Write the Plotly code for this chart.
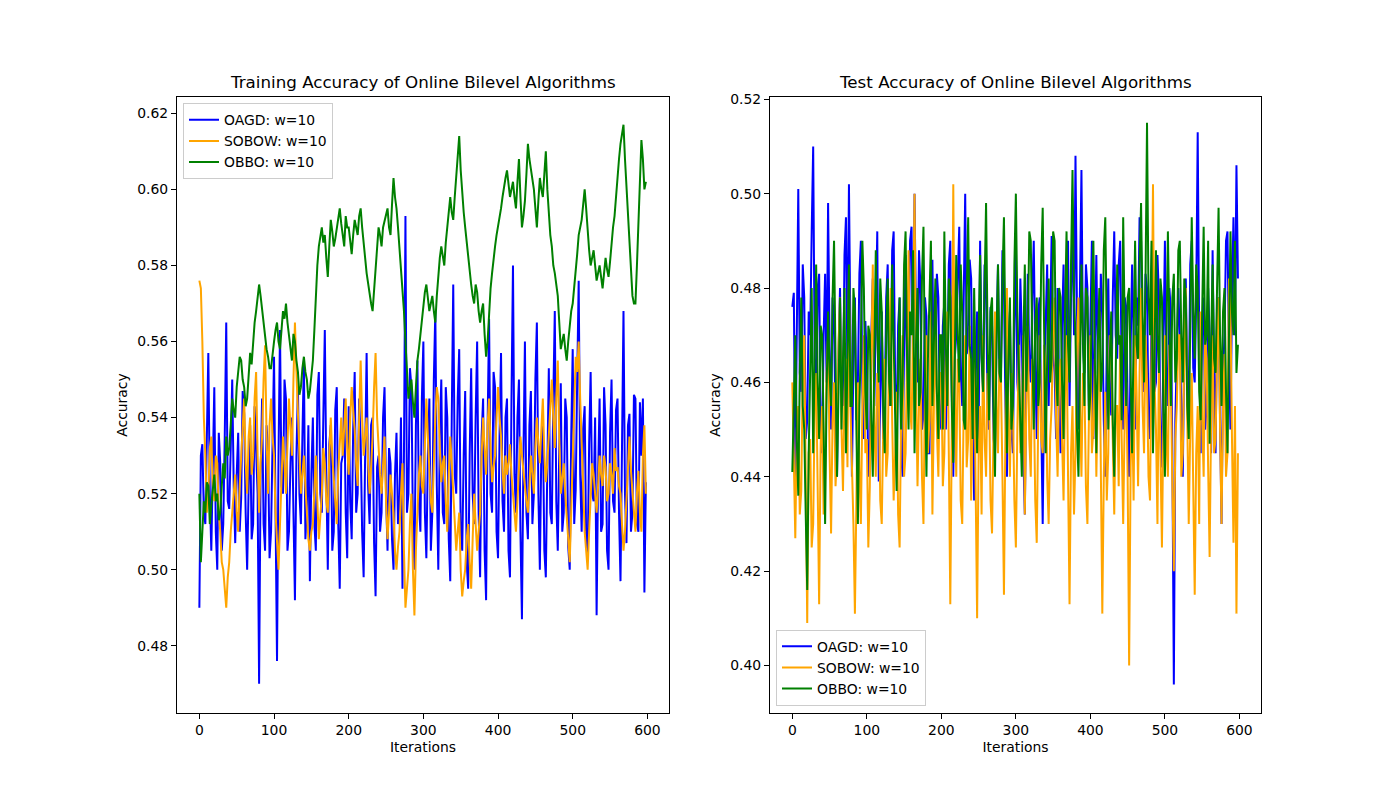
import plotly.graph_objects as go

# iterations sampled every 2 steps
iterations = list(range(0, 600, 2))

train_oagd = [
    0.490, 0.530, 0.533, 0.515, 0.512, 0.540, 0.557, 0.520, 0.505, 0.527, 0.548, 0.510, 0.500, 0.536, 0.528, 0.505, 0.512, 0.535, 0.565, 0.518,
    0.516, 0.532, 0.550, 0.522, 0.507, 0.525, 0.536, 0.510, 0.519, 0.547, 0.541, 0.515, 0.500, 0.522, 0.538, 0.508, 0.512, 0.543, 0.530, 0.520,
    0.470, 0.525, 0.545, 0.512, 0.505, 0.538, 0.531, 0.503, 0.510, 0.533, 0.556, 0.515, 0.476, 0.530, 0.563, 0.522, 0.520, 0.550, 0.545, 0.505,
    0.510, 0.528, 0.540, 0.515, 0.492, 0.530, 0.548, 0.520, 0.512, 0.535, 0.555, 0.508, 0.517, 0.538, 0.497, 0.525, 0.540, 0.512, 0.505, 0.546,
    0.552, 0.520, 0.515, 0.540, 0.563, 0.525, 0.500, 0.533, 0.538, 0.505, 0.510, 0.542, 0.548, 0.512, 0.495, 0.528, 0.530, 0.545, 0.515, 0.503,
    0.543, 0.518, 0.508, 0.537, 0.552, 0.515, 0.520, 0.545, 0.534, 0.510, 0.498, 0.530, 0.557, 0.522, 0.512, 0.538, 0.540, 0.507, 0.493, 0.527,
    0.530, 0.510, 0.515, 0.540, 0.548, 0.520, 0.505, 0.532, 0.528, 0.508, 0.500, 0.525, 0.536, 0.512, 0.518, 0.540, 0.495, 0.530, 0.593, 0.515,
    0.520, 0.553, 0.548, 0.512, 0.500, 0.538, 0.555, 0.518, 0.510, 0.545, 0.560, 0.515, 0.503, 0.530, 0.545, 0.505, 0.515, 0.550, 0.568, 0.522,
    0.500, 0.535, 0.550, 0.515, 0.512, 0.548, 0.540, 0.508, 0.497, 0.540, 0.575, 0.525, 0.520, 0.545, 0.558, 0.510, 0.505, 0.530, 0.547, 0.502,
    0.495, 0.530, 0.553, 0.520, 0.512, 0.540, 0.560, 0.515, 0.498, 0.535, 0.545, 0.505, 0.492, 0.538, 0.566, 0.520, 0.515, 0.552, 0.548, 0.510,
    0.503, 0.535, 0.557, 0.518, 0.510, 0.540, 0.545, 0.505, 0.498, 0.545, 0.580, 0.525, 0.515, 0.540, 0.550, 0.510, 0.487, 0.530, 0.560, 0.515,
    0.508, 0.538, 0.547, 0.512, 0.520, 0.550, 0.565, 0.520, 0.500, 0.532, 0.538, 0.505, 0.498, 0.527, 0.553, 0.515, 0.512, 0.545, 0.568, 0.518,
    0.505, 0.532, 0.549, 0.510, 0.515, 0.545, 0.540, 0.506, 0.500, 0.535, 0.558, 0.512, 0.521, 0.550, 0.576, 0.525, 0.510, 0.537, 0.543, 0.508,
    0.503, 0.533, 0.552, 0.520, 0.518, 0.540, 0.488, 0.525, 0.545, 0.510, 0.512, 0.548, 0.538, 0.505, 0.500, 0.536, 0.550, 0.518, 0.515, 0.542,
    0.545, 0.515, 0.497, 0.532, 0.568, 0.520, 0.507, 0.538, 0.541, 0.510, 0.515, 0.546, 0.545, 0.512, 0.510, 0.544, 0.530, 0.545, 0.494, 0.523,
]
train_sobow = [
    0.576, 0.574, 0.560, 0.540, 0.530, 0.515, 0.520, 0.532, 0.535, 0.522, 0.518, 0.530, 0.528, 0.515, 0.510, 0.502, 0.500, 0.495, 0.490, 0.498,
    0.502, 0.510, 0.515, 0.522, 0.525, 0.515, 0.510, 0.522, 0.530, 0.540, 0.545, 0.528, 0.520, 0.535, 0.540, 0.525, 0.530, 0.545, 0.552, 0.530,
    0.515, 0.528, 0.535, 0.550, 0.559, 0.535, 0.520, 0.538, 0.545, 0.535, 0.530, 0.515, 0.505, 0.500, 0.512, 0.525, 0.535, 0.528, 0.520, 0.533,
    0.545, 0.537, 0.530, 0.550, 0.565, 0.552, 0.540, 0.528, 0.520, 0.525, 0.530, 0.522, 0.515, 0.508, 0.505, 0.510, 0.512, 0.522, 0.530, 0.518,
    0.508, 0.514, 0.520, 0.532, 0.528, 0.518, 0.515, 0.530, 0.540, 0.530, 0.523, 0.516, 0.512, 0.526, 0.535, 0.540, 0.530, 0.538, 0.545, 0.532,
    0.525, 0.540, 0.548, 0.542, 0.537, 0.528, 0.522, 0.540, 0.555, 0.540, 0.530, 0.535, 0.540, 0.528, 0.520, 0.527, 0.535, 0.548, 0.557, 0.540,
    0.530, 0.525, 0.520, 0.530, 0.535, 0.518, 0.508, 0.515, 0.525, 0.520, 0.515, 0.505, 0.500, 0.506, 0.510, 0.520, 0.528, 0.505, 0.490, 0.495,
    0.500, 0.512, 0.520, 0.500, 0.488, 0.505, 0.515, 0.525, 0.530, 0.522, 0.520, 0.535, 0.545, 0.535, 0.527, 0.518, 0.515, 0.530, 0.540, 0.548,
    0.545, 0.532, 0.523, 0.528, 0.530, 0.518, 0.510, 0.525, 0.535, 0.528, 0.520, 0.512, 0.505, 0.510, 0.515, 0.500, 0.493, 0.497, 0.500, 0.508,
    0.512, 0.502, 0.495, 0.508, 0.520, 0.512, 0.505, 0.510, 0.515, 0.530, 0.540, 0.532, 0.525, 0.538, 0.545, 0.532, 0.523, 0.527, 0.530, 0.540,
    0.548, 0.540, 0.535, 0.526, 0.520, 0.530, 0.525, 0.528, 0.533, 0.525, 0.520, 0.515, 0.510, 0.518, 0.527, 0.535, 0.530, 0.525, 0.522, 0.518,
    0.515, 0.522, 0.530, 0.525, 0.520, 0.532, 0.540, 0.533, 0.528, 0.537, 0.545, 0.530, 0.523, 0.528, 0.535, 0.545, 0.550, 0.540, 0.532, 0.545,
    0.555, 0.535, 0.520, 0.524, 0.528, 0.520, 0.515, 0.508, 0.502, 0.515, 0.530, 0.545, 0.556, 0.552, 0.560, 0.545, 0.532, 0.520, 0.510, 0.505,
    0.500, 0.510, 0.518, 0.528, 0.525, 0.520, 0.515, 0.522, 0.530, 0.525, 0.522, 0.530, 0.527, 0.518, 0.520, 0.528, 0.525, 0.520, 0.532, 0.526,
    0.527, 0.522, 0.520, 0.512, 0.505, 0.510, 0.518, 0.528, 0.535, 0.526, 0.520, 0.514, 0.510, 0.520, 0.526, 0.515, 0.510, 0.530, 0.538, 0.520,
]
train_obbo = [
    0.520, 0.502, 0.510, 0.518, 0.515, 0.523, 0.522, 0.512, 0.517, 0.522, 0.525, 0.518, 0.520, 0.513, 0.515, 0.522, 0.528, 0.524, 0.535, 0.530,
    0.532, 0.538, 0.545, 0.542, 0.540, 0.548, 0.552, 0.556, 0.555, 0.550, 0.548, 0.543, 0.545, 0.552, 0.557, 0.554, 0.560, 0.565, 0.568, 0.572,
    0.575, 0.572, 0.568, 0.565, 0.562, 0.558, 0.556, 0.553, 0.553, 0.557, 0.560, 0.563, 0.565, 0.560, 0.558, 0.563, 0.568, 0.566, 0.570, 0.565,
    0.562, 0.558, 0.555, 0.562, 0.560, 0.555, 0.552, 0.546, 0.548, 0.553, 0.556, 0.552, 0.550, 0.545, 0.547, 0.551, 0.555, 0.563, 0.572, 0.580,
    0.585, 0.588, 0.590, 0.586, 0.588, 0.582, 0.577, 0.585, 0.592, 0.589, 0.585, 0.587, 0.590, 0.593, 0.595, 0.591, 0.588, 0.585, 0.593, 0.590,
    0.590, 0.587, 0.583, 0.588, 0.592, 0.590, 0.588, 0.593, 0.595, 0.590, 0.585, 0.582, 0.578, 0.575, 0.572, 0.570, 0.568, 0.574, 0.580, 0.586,
    0.590, 0.588, 0.585, 0.590, 0.592, 0.594, 0.595, 0.590, 0.588, 0.596, 0.603, 0.598, 0.595, 0.590, 0.585, 0.580, 0.575, 0.568, 0.560, 0.552,
    0.545, 0.548, 0.550, 0.544, 0.540, 0.548, 0.555, 0.558, 0.562, 0.566, 0.570, 0.573, 0.575, 0.571, 0.568, 0.570, 0.572, 0.568, 0.565, 0.572,
    0.578, 0.582, 0.585, 0.583, 0.580, 0.586, 0.590, 0.595, 0.598, 0.594, 0.592, 0.598, 0.604, 0.610, 0.614, 0.605, 0.598, 0.594, 0.590, 0.586,
    0.582, 0.578, 0.575, 0.572, 0.570, 0.575, 0.573, 0.568, 0.565, 0.568, 0.570, 0.562, 0.556, 0.560, 0.568, 0.574, 0.578, 0.582, 0.585, 0.588,
    0.590, 0.593, 0.595, 0.598, 0.600, 0.603, 0.605, 0.601, 0.598, 0.600, 0.602, 0.598, 0.595, 0.602, 0.608, 0.598, 0.590, 0.593, 0.597, 0.604,
    0.612, 0.608, 0.605, 0.602, 0.600, 0.595, 0.590, 0.597, 0.603, 0.600, 0.598, 0.604, 0.610, 0.600, 0.592, 0.588, 0.585, 0.580, 0.578, 0.575,
    0.572, 0.565, 0.558, 0.560, 0.562, 0.558, 0.555, 0.560, 0.565, 0.568, 0.570, 0.574, 0.578, 0.583, 0.588, 0.590, 0.592, 0.596, 0.600, 0.595,
    0.588, 0.584, 0.580, 0.582, 0.584, 0.580, 0.576, 0.578, 0.580, 0.577, 0.574, 0.578, 0.582, 0.579, 0.577, 0.581, 0.586, 0.590, 0.593, 0.598,
    0.605, 0.608, 0.612, 0.615, 0.617, 0.608, 0.600, 0.592, 0.585, 0.578, 0.572, 0.570, 0.570, 0.580, 0.592, 0.603, 0.613, 0.608, 0.600, 0.602,
]

test_oagd = [
    0.476, 0.479, 0.440, 0.470, 0.501, 0.462, 0.458, 0.485, 0.478, 0.448, 0.452, 0.475, 0.470, 0.492, 0.510, 0.465, 0.455, 0.480, 0.483, 0.450,
    0.445, 0.470, 0.483, 0.460, 0.498, 0.468, 0.450, 0.478, 0.472, 0.452, 0.440, 0.466, 0.480, 0.458, 0.455, 0.487, 0.495, 0.462, 0.502, 0.470,
    0.440, 0.465, 0.478, 0.452, 0.460, 0.483, 0.490, 0.458, 0.448, 0.473, 0.465, 0.440, 0.445, 0.470, 0.482, 0.455, 0.470, 0.492, 0.439, 0.462,
    0.475, 0.448, 0.455, 0.478, 0.485, 0.455, 0.462, 0.488, 0.492, 0.460, 0.450, 0.472, 0.478, 0.445, 0.440, 0.468, 0.487, 0.458, 0.466, 0.490,
    0.493, 0.465, 0.500, 0.472, 0.460, 0.488, 0.480, 0.450, 0.453, 0.478, 0.474, 0.445, 0.445, 0.470, 0.486, 0.458, 0.463, 0.483, 0.478, 0.452,
    0.450, 0.472, 0.477, 0.450, 0.462, 0.485, 0.490, 0.458, 0.440, 0.465, 0.470, 0.482, 0.493, 0.462, 0.455, 0.478, 0.500, 0.466, 0.468, 0.486,
    0.482, 0.455, 0.435, 0.462, 0.475, 0.448, 0.490, 0.466, 0.458, 0.485, 0.480, 0.455, 0.450, 0.476, 0.472, 0.448, 0.445, 0.470, 0.485, 0.460,
    0.462, 0.488, 0.480, 0.455, 0.440, 0.468, 0.475, 0.450, 0.445, 0.472, 0.488, 0.460, 0.455, 0.482, 0.470, 0.445, 0.432, 0.460, 0.483, 0.465,
    0.460, 0.478, 0.490, 0.465, 0.448, 0.475, 0.478, 0.452, 0.430, 0.460, 0.472, 0.485, 0.455, 0.470, 0.491, 0.466, 0.462, 0.448, 0.480, 0.458,
    0.445, 0.472, 0.485, 0.458, 0.470, 0.490, 0.455, 0.478, 0.495, 0.470, 0.508, 0.475, 0.450, 0.480, 0.505, 0.468, 0.462, 0.485, 0.480, 0.455,
    0.470, 0.490, 0.448, 0.472, 0.487, 0.462, 0.460, 0.483, 0.475, 0.452, 0.440, 0.468, 0.482, 0.458, 0.453, 0.478, 0.492, 0.470, 0.465, 0.485,
    0.490, 0.462, 0.450, 0.478, 0.476, 0.455, 0.440, 0.467, 0.485, 0.470, 0.450, 0.478, 0.472, 0.495, 0.490, 0.463, 0.458, 0.483, 0.480, 0.452,
    0.448, 0.475, 0.485, 0.458, 0.460, 0.487, 0.478, 0.450, 0.442, 0.468, 0.490, 0.462, 0.455, 0.480, 0.475, 0.445, 0.396, 0.452, 0.465, 0.480,
    0.470, 0.452, 0.440, 0.468, 0.482, 0.460, 0.455, 0.485, 0.490, 0.463, 0.460, 0.478, 0.513, 0.470, 0.445, 0.472, 0.478, 0.450, 0.455, 0.480,
    0.470, 0.445, 0.488, 0.462, 0.445, 0.475, 0.478, 0.452, 0.430, 0.462, 0.470, 0.490, 0.492, 0.465, 0.450, 0.478, 0.495, 0.470, 0.506, 0.482,
]
test_sobow = [
    0.460, 0.445, 0.427, 0.450, 0.455, 0.432, 0.437, 0.462, 0.470, 0.440, 0.409, 0.445, 0.448, 0.425, 0.430, 0.455, 0.462, 0.438, 0.413, 0.447,
    0.455, 0.432, 0.440, 0.462, 0.470, 0.445, 0.428, 0.452, 0.460, 0.438, 0.445, 0.468, 0.478, 0.450, 0.437, 0.458, 0.465, 0.442, 0.484, 0.455,
    0.445, 0.430, 0.411, 0.440, 0.460, 0.442, 0.430, 0.455, 0.470, 0.445, 0.448, 0.425, 0.438, 0.465, 0.485, 0.452, 0.440, 0.462, 0.458, 0.435,
    0.430, 0.450, 0.465, 0.440, 0.445, 0.468, 0.480, 0.452, 0.435, 0.445, 0.458, 0.432, 0.425, 0.452, 0.470, 0.440, 0.445, 0.465, 0.488, 0.455,
    0.450, 0.472, 0.500, 0.460, 0.438, 0.455, 0.465, 0.440, 0.430, 0.458, 0.470, 0.445, 0.452, 0.475, 0.432, 0.455, 0.478, 0.450, 0.440, 0.462,
    0.462, 0.438, 0.445, 0.468, 0.475, 0.445, 0.413, 0.450, 0.502, 0.458, 0.440, 0.465, 0.460, 0.435, 0.430, 0.455, 0.470, 0.442, 0.448, 0.472,
    0.435, 0.452, 0.465, 0.438, 0.410, 0.445, 0.455, 0.432, 0.470, 0.448, 0.440, 0.462, 0.458, 0.435, 0.428, 0.450, 0.475, 0.455, 0.445, 0.465,
    0.460, 0.440, 0.415, 0.450, 0.480, 0.455, 0.440, 0.462, 0.455, 0.435, 0.425, 0.450, 0.468, 0.445, 0.450, 0.470, 0.432, 0.455, 0.472, 0.448,
    0.440, 0.465, 0.458, 0.435, 0.426, 0.452, 0.470, 0.448, 0.445, 0.468, 0.462, 0.440, 0.430, 0.448, 0.455, 0.472, 0.478, 0.452, 0.440, 0.460,
    0.465, 0.448, 0.435, 0.458, 0.470, 0.440, 0.413, 0.445, 0.455, 0.432, 0.445, 0.468, 0.478, 0.455, 0.440, 0.462, 0.460, 0.438, 0.430, 0.452,
    0.470, 0.445, 0.450, 0.465, 0.440, 0.458, 0.475, 0.442, 0.411, 0.440, 0.458, 0.435, 0.445, 0.470, 0.468, 0.448, 0.432, 0.455, 0.455, 0.438,
    0.470, 0.448, 0.430, 0.452, 0.460, 0.440, 0.400, 0.442, 0.455, 0.435, 0.470, 0.458, 0.438, 0.462, 0.480, 0.455, 0.445, 0.470, 0.460, 0.440,
    0.435, 0.465, 0.502, 0.460, 0.450, 0.430, 0.465, 0.445, 0.425, 0.452, 0.470, 0.448, 0.440, 0.468, 0.460, 0.438, 0.420, 0.448, 0.455, 0.470,
    0.470, 0.440, 0.445, 0.466, 0.480, 0.452, 0.430, 0.450, 0.462, 0.438, 0.415, 0.445, 0.455, 0.430, 0.475, 0.452, 0.440, 0.470, 0.465, 0.442,
    0.423, 0.452, 0.470, 0.445, 0.448, 0.465, 0.478, 0.450, 0.430, 0.455, 0.466, 0.440, 0.445, 0.482, 0.475, 0.448, 0.426, 0.455, 0.411, 0.445,
]
test_obbo = [
    0.441, 0.455, 0.470, 0.448, 0.436, 0.462, 0.478, 0.455, 0.450, 0.432, 0.416, 0.445, 0.465, 0.480, 0.445, 0.468, 0.485, 0.460, 0.448, 0.472,
    0.470, 0.450, 0.430, 0.458, 0.475, 0.462, 0.455, 0.478, 0.490, 0.465, 0.440, 0.458, 0.478, 0.450, 0.462, 0.480, 0.445, 0.470, 0.485, 0.455,
    0.455, 0.480, 0.475, 0.450, 0.430, 0.455, 0.468, 0.490, 0.480, 0.458, 0.450, 0.472, 0.470, 0.452, 0.440, 0.465, 0.488, 0.470, 0.460, 0.482,
    0.475, 0.455, 0.445, 0.470, 0.482, 0.460, 0.455, 0.485, 0.470, 0.450, 0.437, 0.462, 0.478, 0.450, 0.460, 0.485, 0.492, 0.465, 0.450, 0.475,
    0.470, 0.488, 0.445, 0.468, 0.480, 0.455, 0.458, 0.482, 0.493, 0.462, 0.440, 0.465, 0.475, 0.490, 0.455, 0.472, 0.482, 0.458, 0.448, 0.470,
    0.470, 0.450, 0.492, 0.468, 0.455, 0.482, 0.478, 0.455, 0.443, 0.465, 0.487, 0.470, 0.460, 0.485, 0.475, 0.452, 0.450, 0.478, 0.495, 0.468,
    0.465, 0.448, 0.480, 0.462, 0.445, 0.470, 0.487, 0.465, 0.458, 0.480, 0.498, 0.470, 0.452, 0.475, 0.478, 0.455, 0.440, 0.468, 0.485, 0.462,
    0.460, 0.482, 0.495, 0.468, 0.445, 0.465, 0.478, 0.450, 0.455, 0.485, 0.500, 0.475, 0.462, 0.450, 0.440, 0.468, 0.485, 0.458, 0.470, 0.492,
    0.490, 0.468, 0.450, 0.472, 0.478, 0.455, 0.460, 0.485, 0.497, 0.470, 0.445, 0.465, 0.482, 0.460, 0.465, 0.492, 0.490, 0.462, 0.455, 0.480,
    0.478, 0.460, 0.448, 0.475, 0.492, 0.468, 0.460, 0.485, 0.505, 0.478, 0.470, 0.450, 0.440, 0.462, 0.485, 0.470, 0.455, 0.480, 0.478, 0.452,
    0.458, 0.478, 0.490, 0.465, 0.445, 0.468, 0.480, 0.458, 0.462, 0.488, 0.495, 0.470, 0.450, 0.465, 0.475, 0.452, 0.440, 0.462, 0.485, 0.468,
    0.470, 0.452, 0.495, 0.472, 0.455, 0.478, 0.480, 0.462, 0.445, 0.470, 0.490, 0.468, 0.465, 0.485, 0.498, 0.475, 0.460, 0.482, 0.515, 0.478,
    0.470, 0.490, 0.445, 0.465, 0.488, 0.470, 0.462, 0.482, 0.478, 0.455, 0.440, 0.468, 0.492, 0.472, 0.455, 0.478, 0.483, 0.460, 0.465, 0.488,
    0.490, 0.470, 0.460, 0.482, 0.478, 0.455, 0.448, 0.472, 0.495, 0.475, 0.465, 0.485, 0.480, 0.458, 0.452, 0.475, 0.493, 0.468, 0.470, 0.490,
    0.447, 0.468, 0.485, 0.465, 0.462, 0.480, 0.497, 0.470, 0.455, 0.475, 0.480, 0.458, 0.445, 0.470, 0.492, 0.475, 0.470, 0.490, 0.462, 0.468,
]

names = ["OAGD: w=10", "SOBOW: w=10", "OBBO: w=10"]
colors = ["blue", "orange", "green"]

font = dict(family="DejaVu Sans", size=13.9, color="black")

fig = go.Figure()
for name, color, ys in zip(names, colors, [train_oagd, train_sobow, train_obbo]):
    fig.add_trace(go.Scatter(x=iterations, y=ys, mode="lines", name=name,
                             line=dict(color=color, width=2),
                             xaxis="x", yaxis="y", legend="legend"))
for name, color, ys in zip(names, colors, [test_oagd, test_sobow, test_obbo]):
    fig.add_trace(go.Scatter(x=iterations, y=ys, mode="lines", name=name,
                             line=dict(color=color, width=2),
                             xaxis="x2", yaxis="y2", legend="legend2"))

axis_style = dict(showline=True, linecolor="black", linewidth=1, mirror=True,
                  ticks="outside", ticklen=5, tickcolor="black",
                  showgrid=False, zeroline=False, tickfont=font)

# the page adds a small offset, so the domains are nudged up and left
fig.update_layout(
    width=1400, height=800,
    margin=dict(l=0, r=0, t=0, b=0),
    plot_bgcolor="white", paper_bgcolor="white",
    font=font,
    xaxis=dict(domain=[169 / 1400, 661 / 1400], anchor="y", range=[-29.95, 628.95],
               tickvals=[0, 100, 200, 300, 400, 500, 600],
               title=dict(text="Iterations", font=font, standoff=4), **axis_style),
    yaxis=dict(domain=[96 / 800, 716 / 800], anchor="x", range=[0.4624, 0.6242],
               tickvals=[0.48, 0.50, 0.52, 0.54, 0.56, 0.58, 0.60, 0.62], tickformat=".2f",
               title=dict(text="Accuracy", font=font, standoff=6), **axis_style),
    xaxis2=dict(domain=[762 / 1400, 1253 / 1400], anchor="y2", range=[-29.95, 628.95],
                tickvals=[0, 100, 200, 300, 400, 500, 600],
                title=dict(text="Iterations", font=font, standoff=4), **axis_style),
    yaxis2=dict(domain=[96 / 800, 716 / 800], anchor="x2", range=[0.3900, 0.5204],
                tickvals=[0.40, 0.42, 0.44, 0.46, 0.48, 0.50, 0.52], tickformat=".2f",
                title=dict(text="Accuracy", font=font, standoff=6), **axis_style),
    legend=dict(x=175 / 1400, y=1 - 90 / 800, xanchor="left", yanchor="top",
                bgcolor="rgba(255,255,255,0.8)", bordercolor="#cccccc", borderwidth=1,
                font=font, itemwidth=30, tracegroupgap=0),
    legend2=dict(x=768 / 1400, y=1 - 697 / 800, xanchor="left", yanchor="bottom",
                 bgcolor="rgba(255,255,255,0.8)", bordercolor="#cccccc", borderwidth=1,
                 font=font, itemwidth=30, tracegroupgap=0),
    annotations=[
        dict(text="Training Accuracy of Online Bilevel Algorithms", x=415 / 1400, y=1 - 69 / 800,
             xref="paper", yref="paper", showarrow=False, xanchor="center", yanchor="middle",
             font=dict(family="DejaVu Sans", size=16.7, color="black")),
        dict(text="Test Accuracy of Online Bilevel Algorithms", x=1007.5 / 1400, y=1 - 69 / 800,
             xref="paper", yref="paper", showarrow=False, xanchor="center", yanchor="middle",
             font=dict(family="DejaVu Sans", size=16.7, color="black")),
    ],
)

fig.write_html("out.html")
